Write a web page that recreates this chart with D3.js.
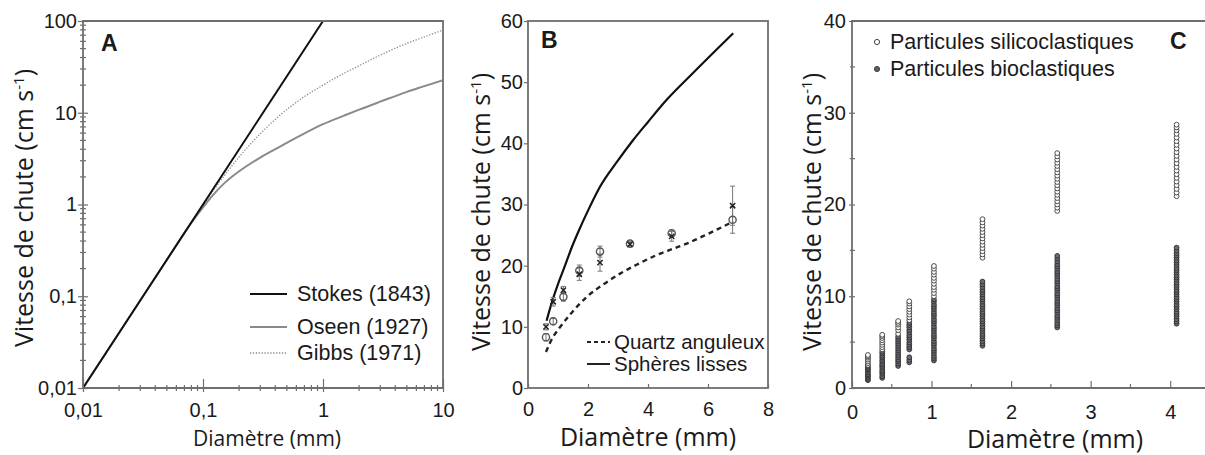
<!DOCTYPE html>
<html>
<head>
<meta charset="utf-8">
<script src="https://cdn.jsdelivr.net/npm/d3@7"></script>
<style>
  body { margin: 0; background: #fff; }
  text { fill: #1a1a1a; }
</style>
</head>
<body>
<div id="fig"></div>
<script>
// ---- data ----

// panel A : log-log
var aTickVals = [0.01, 0.1, 1, 10];
var aTickLabels = ["0,01", "0,1", "1", "10"];
var aYTickVals = [0.01, 0.1, 1, 10, 100];
var aYTickLabels = ["0,01", "0,1", "1", "10", "100"];
var stokesD = [0.01, 0.1, 1];
var stokesV = [0.01, 1, 100];
var oseenD = [0.01, 0.05, 0.08, 0.1, 0.12, 0.15, 0.2, 0.3, 0.45, 0.7, 1, 1.5, 2, 3, 5, 7, 10];
var oseenV = [0.01, 0.25, 0.63, 0.93, 1.25, 1.7, 2.3, 3.25, 4.35, 5.95, 7.5, 9.3, 10.8, 13.2, 16.9, 19.5, 22.7];
var gibbsD = [0.01, 0.05, 0.08, 0.1, 0.12, 0.15, 0.2, 0.3, 0.45, 0.7, 1, 1.5, 2, 3, 5, 7, 10];
var gibbsV = [0.01, 0.25, 0.63, 0.97, 1.38, 2.05, 3.3, 5.9, 9.7, 15, 20, 27, 32.5, 42.5, 57, 67, 80];
var aNames = ["Stokes (1843)", "Oseen (1927)", "Gibbs (1971)"];

// panel B
var bXTicks = [0, 2, 4, 6, 8];
var bYTicks = [0, 10, 20, 30, 40, 50, 60];
var sphD = [0.62, 0.82, 1.0, 1.18, 1.5, 1.7, 2.0, 2.4, 3.0, 3.5, 4.0, 4.6, 5.5, 6.84];
var sphV = [11, 14.4, 17, 19.3, 23.5, 25.8, 29, 32.9, 37.2, 40.5, 43.5, 47, 51.5, 58];
var qzD = [0.6, 0.84, 1.0, 1.4, 1.96, 2.5, 3.07, 3.6, 4.18, 4.8, 5.29, 6.0, 6.84];
var qzV = [5.9, 8.4, 9.5, 12, 14.9, 16.9, 18.7, 20.1, 21.5, 22.7, 23.6, 25.2, 27.2];
var measD = [0.6, 0.84, 1.18, 1.71, 2.4, 3.4, 4.79, 6.82];
var circV = [8.3, 10.9, 14.9, 19.2, 22.3, 23.6, 25.3, 27.5];
var circErr = [0.6, 0.5, 0.7, 0.9, 0.9, 0.3, 0.5, 2.2];
var crossV = [10.0, 14.1, 16.0, 18.6, 20.5, 23.5, 24.8, 29.8];
var crossErr = [0.5, 0.7, 0.6, 1.0, 1.4, 0.3, 0.8, 3.2];
var bNames = ["Quartz anguleux", "Sphères lisses"];

// panel C
var cXTicks = [0, 1, 2, 3, 4];
var cYTicks = [0, 10, 20, 30, 40];
var colD = [0.2, 0.38, 0.58, 0.72, 1.03, 1.64, 2.58, 4.08];
var bioCols = [
  [0.85, 1.0, 1.2, 1.35, 1.5, 1.7, 1.9, 2.05, 2.2, 2.4],
  [1.1, 1.3, 1.55, 1.75, 1.95, 2.2, 2.4, 2.6, 2.85, 3.05, 3.3, 3.5, 3.75, 3.95],
  [2.4, 2.65, 2.9, 3.1, 3.35, 3.6, 3.85, 4.1, 4.35, 4.6, 4.85, 5.1, 5.35, 5.6],
  [2.8, 3.05, 3.35, 4.2, 4.45, 4.7, 4.95, 5.25, 5.5, 5.75, 6.05, 6.3, 6.6, 6.85, 7.1],
  [3.0, 3.25, 3.5, 3.8, 4.05, 4.3, 4.6, 4.85, 5.1, 5.4, 5.65, 5.9, 6.2, 6.45, 6.7, 7.0, 7.25, 7.5, 7.8, 8.05, 8.3, 8.6, 8.85, 9.1, 9.4, 9.65],
  [4.6, 4.85, 5.1, 5.4, 5.65, 5.9, 6.2, 6.45, 6.7, 7.0, 7.25, 7.5, 7.8, 8.05, 8.3, 8.6, 8.85, 9.1, 9.4, 9.65, 9.9, 10.2, 10.45, 10.7, 11.0, 11.3, 11.6],
  [6.6, 6.85, 7.1, 7.4, 7.65, 7.9, 8.2, 8.45, 8.7, 9.0, 9.25, 9.5, 9.8, 10.05, 10.3, 10.6, 10.85, 11.1, 11.4, 11.65, 11.9, 12.2, 12.45, 12.7, 13.0, 13.25, 13.5, 13.8, 14.1, 14.4],
  [7.0, 7.25, 7.5, 7.8, 8.05, 8.3, 8.6, 8.85, 9.1, 9.4, 9.65, 9.9, 10.2, 10.45, 10.7, 11.0, 11.25, 11.5, 11.8, 12.05, 12.3, 12.6, 12.85, 13.1, 13.4, 13.65, 13.9, 14.2, 14.45, 14.7, 15.0, 15.3]
];
var silicoCols = [
  [2.5, 2.7, 2.9, 3.1, 3.3, 3.45, 3.6],
  [4.2, 4.45, 4.7, 4.95, 5.2, 5.45, 5.65, 5.8],
  [5.9, 6.3, 6.6, 6.9, 7.1, 7.3],
  [7.4, 7.7, 8.0, 8.3, 8.6, 8.9, 9.2, 9.45],
  [10.0, 10.35, 10.7, 11.0, 11.35, 11.7, 12.0, 12.35, 12.65, 13.0, 13.3],
  [14.2, 14.55, 14.9, 15.25, 15.6, 15.95, 16.3, 16.65, 17.0, 17.35, 17.7, 18.05, 18.4],
  [19.3, 19.65, 20.0, 20.35, 20.7, 21.05, 21.4, 21.75, 22.1, 22.45, 22.8, 23.15, 23.5, 23.85, 24.2, 24.55, 24.9, 25.25, 25.6],
  [20.9, 21.3, 21.7, 22.1, 22.5, 22.9, 23.3, 23.7, 24.1, 24.5, 24.9, 25.3, 25.7, 26.1, 26.5, 26.9, 27.3, 27.7, 28.1, 28.4, 28.7]
];
var cNames = ["Particules silicoclastiques", "Particules bioclastiques"];

// ---- drawing ----
var W = 1205, H = 455;
var tickFont = "'Liberation Sans', Arial, sans-serif";
var titleFont = "'Open Sans', 'Noto Sans', sans-serif";
var axisCol = "#6e6e6e";

var svg = d3.select("#fig").append("svg")
  .attr("width", W).attr("height", H)
  .attr("viewBox", [0, 0, W, H]);

function zip(xs, ys) { return xs.map((x, i) => [x, ys[i]]); }

function yTitle(x, cy, size) {
  var t = svg.append("text")
    .attr("transform", `translate(${x},${cy}) rotate(-90)`)
    .attr("text-anchor", "middle")
    .attr("font-family", titleFont)
    .attr("font-size", size);
  t.append("tspan").text("Vitesse de chute (cm s");
  t.append("tspan").attr("font-size", size * 0.6).attr("dy", -size * 0.38).text("-1");
  t.append("tspan").attr("dy", size * 0.38).text(")");
}

function xTitle(cx, y, size) {
  svg.append("text")
    .attr("x", cx).attr("y", y)
    .attr("text-anchor", "middle")
    .attr("font-family", titleFont)
    .attr("font-size", size)
    .text("Diamètre (mm)");
}

function styleAxis(g) {
  g.select(".domain").remove();
  g.selectAll("line").attr("stroke", axisCol).attr("stroke-width", 1.2);
  g.selectAll("text").attr("font-family", tickFont).attr("font-size", 20).attr("fill", "#222");
}

function panelLetter(x, y, s) {
  svg.append("text").attr("x", x).attr("y", y)
    .attr("font-family", tickFont).attr("font-weight", "bold")
    .attr("font-size", 23).text(s);
}

// ================= A =================
function panelA() {
  var x = d3.scaleLog().domain([0.01, 10]).range([83, 443]);
  var y = d3.scaleLog().domain([0.01, 100]).range([388, 21]);

  svg.append("clipPath").attr("id", "clipA").append("rect")
    .attr("x", 83).attr("y", 21).attr("width", 360).attr("height", 367);

  var line = d3.line().x(d => x(d[0])).y(d => y(d[1])).curve(d3.curveMonotoneX);
  var g = svg.append("g").attr("clip-path", "url(#clipA)");
  g.append("path").datum(zip(gibbsD, gibbsV)).attr("d", line)
    .attr("fill", "none").attr("stroke", "#8c8c8c").attr("stroke-width", 1.3)
    .attr("stroke-dasharray", "1.3,1.6");
  g.append("path").datum(zip(oseenD, oseenV)).attr("d", line)
    .attr("fill", "none").attr("stroke", "#8a8a8a").attr("stroke-width", 2);
  g.append("path").datum(zip(stokesD, stokesV)).attr("d", line)
    .attr("fill", "none").attr("stroke", "#111").attr("stroke-width", 2);

  // minor ticks
  var minorX = x.ticks().filter(v => aTickVals.indexOf(v) < 0);
  var minorY = y.ticks().filter(v => aYTickVals.indexOf(v) < 0);
  svg.append("g").selectAll("line").data(minorX).join("line")
    .attr("x1", d => x(d)).attr("x2", d => x(d))
    .attr("y1", 385).attr("y2", 391)
    .attr("stroke", axisCol).attr("stroke-width", 1.2);
  svg.append("g").selectAll("line").data(minorY).join("line")
    .attr("y1", d => y(d)).attr("y2", d => y(d))
    .attr("x1", 80).attr("x2", 86)
    .attr("stroke", axisCol).attr("stroke-width", 1.2);

  var gx = svg.append("g").attr("transform", "translate(0,388)")
    .call(d3.axisBottom(x).tickValues(aTickVals).tickSize(4).tickPadding(11)
      .tickFormat((d, i) => aTickLabels[i]));
  styleAxis(gx);
  gx.selectAll(".tick line").attr("y1", -9).attr("y2", 4);

  var gy = svg.append("g").attr("transform", "translate(83,0)")
    .call(d3.axisLeft(y).tickValues(aYTickVals).tickSize(5).tickPadding(1)
      .tickFormat((d, i) => aYTickLabels[i]));
  styleAxis(gy);
  gy.selectAll(".tick line").attr("x1", 5).attr("x2", -5);

  // frame
  svg.append("path").attr("d", "M83,388H443V21H83V388")
    .attr("fill", "none").attr("stroke", axisCol).attr("stroke-width", 1.8);

  // legend
  var lg = [
    {name: aNames[0], y: 301, stroke: "#111", w: 2, dash: null},
    {name: aNames[1], y: 334, stroke: "#8a8a8a", w: 2, dash: null},
    {name: aNames[2], y: 360, stroke: "#8c8c8c", w: 1.3, dash: "1.3,1.6"}
  ];
  var leg = svg.append("g").selectAll("g").data(lg).join("g");
  leg.append("line").attr("x1", 250).attr("x2", 287)
    .attr("y1", d => d.y - 7).attr("y2", d => d.y - 7)
    .attr("stroke", d => d.stroke).attr("stroke-width", d => d.w)
    .attr("stroke-dasharray", d => d.dash);
  leg.append("text").attr("x", 297).attr("y", d => d.y)
    .attr("font-family", tickFont).attr("font-size", 21.5).text(d => d.name);

  panelLetter(101, 51, "A");
  yTitle(33, 208, 25);
  xTitle(267, 446, 21);
}

// ================= B =================
function panelB() {
  var x = d3.scaleLinear().domain([0, 8]).range([528, 768]);
  var y = d3.scaleLinear().domain([0, 60]).range([388, 21]);
  var line = d3.line().x(d => x(d[0])).y(d => y(d[1])).curve(d3.curveMonotoneX);

  svg.append("path").datum(zip(qzD, qzV)).attr("d", line)
    .attr("fill", "none").attr("stroke", "#222").attr("stroke-width", 2.4)
    .attr("stroke-dasharray", "5,4");
  svg.append("path").datum(zip(sphD, sphV)).attr("d", line)
    .attr("fill", "none").attr("stroke", "#111").attr("stroke-width", 2.2);

  // error bars
  var eb = svg.append("g").attr("stroke", "#777").attr("stroke-width", 1);
  function errBars(vals, errs) {
    measD.forEach(function (d, i) {
      var cx = x(d);
      eb.append("line").attr("x1", cx).attr("x2", cx)
        .attr("y1", y(vals[i] - errs[i])).attr("y2", y(vals[i] + errs[i]));
      [vals[i] - errs[i], vals[i] + errs[i]].forEach(function (v) {
        eb.append("line").attr("x1", cx - 2.5).attr("x2", cx + 2.5)
          .attr("y1", y(v)).attr("y2", y(v));
      });
    });
  }
  errBars(circV, circErr);
  errBars(crossV, crossErr);

  svg.append("g").selectAll("circle").data(zip(measD, circV)).join("circle")
    .attr("cx", d => x(d[0])).attr("cy", d => y(d[1])).attr("r", 3.6)
    .attr("fill", "none").attr("stroke", "#555").attr("stroke-width", 1.4);
  svg.append("g").selectAll("path").data(zip(measD, crossV)).join("path")
    .attr("transform", d => `translate(${x(d[0])},${y(d[1])})`)
    .attr("d", d3.symbol(d3.symbolTimes, 20))
    .attr("fill", "none").attr("stroke", "#222").attr("stroke-width", 1.5);

  var gx = svg.append("g").attr("transform", "translate(0,388)")
    .call(d3.axisBottom(x).tickValues(bXTicks).tickSize(4).tickPadding(10));
  styleAxis(gx);
  gx.selectAll(".tick line").attr("y1", -4).attr("y2", 0);

  var gy = svg.append("g").attr("transform", "translate(528,0)")
    .call(d3.axisLeft(y).tickValues(bYTicks).tickSize(4).tickPadding(1));
  styleAxis(gy);

  svg.append("rect").attr("x", 528).attr("y", 21).attr("width", 240).attr("height", 367)
    .attr("fill", "none").attr("stroke", axisCol).attr("stroke-width", 1.8);

  var lg = [{name: bNames[0], y: 349, dash: "4,3"}, {name: bNames[1], y: 371, dash: null}];
  var leg = svg.append("g").selectAll("g").data(lg).join("g");
  leg.append("line").attr("x1", 587).attr("x2", 610)
    .attr("y1", d => d.y - 7).attr("y2", d => d.y - 7)
    .attr("stroke", "#222").attr("stroke-width", 2)
    .attr("stroke-dasharray", d => d.dash);
  leg.append("text").attr("x", 614).attr("y", d => d.y)
    .attr("font-family", tickFont).attr("font-size", 20.5).text(d => d.name);

  panelLetter(541, 48, "B");
  yTitle(490, 212, 25);
  xTitle(648, 446, 25);
}

// ================= C =================
function panelC() {
  var x = d3.scaleLinear().domain([0, 4.5]).range([852, 1210]);
  var y = d3.scaleLinear().domain([0, 40]).range([388, 21]);

  var gb = svg.append("g");
  bioCols.forEach(function (col, i) {
    gb.selectAll(null).data(col).join("circle")
      .attr("cx", x(colD[i])).attr("cy", v => y(v)).attr("r", 2.4)
      .attr("fill", "#6a6a74").attr("stroke", "#2e2e2e").attr("stroke-width", 0.9);
  });
  var gs = svg.append("g");
  silicoCols.forEach(function (col, i) {
    gs.selectAll(null).data(col).join("circle")
      .attr("cx", x(colD[i])).attr("cy", v => y(v)).attr("r", 2.4)
      .attr("fill", "#fff").attr("stroke", "#3a3a3a").attr("stroke-width", 0.9);
  });

  var gx = svg.append("g").attr("transform", "translate(0,388)")
    .call(d3.axisBottom(x).tickValues(cXTicks).tickSize(7).tickPadding(10)
      .tickFormat(d3.format("d")));
  styleAxis(gx);
  gx.selectAll(".tick line").attr("y1", -7).attr("y2", 0);
  svg.append("g").selectAll("line").data([0.5, 1.5, 2.5, 3.5]).join("line")
    .attr("x1", d => x(d)).attr("x2", d => x(d)).attr("y1", 384).attr("y2", 388)
    .attr("stroke", axisCol).attr("stroke-width", 1.2);

  var gy = svg.append("g").attr("transform", "translate(852,0)")
    .call(d3.axisLeft(y).tickValues(cYTicks).tickSize(3).tickPadding(3));
  styleAxis(gy);
  gy.selectAll(".tick line").attr("x1", 3).attr("x2", -3);
  svg.append("g").selectAll("line").data([5, 15, 25, 35]).join("line")
    .attr("y1", d => y(d)).attr("y2", d => y(d)).attr("x1", 850).attr("x2", 855)
    .attr("stroke", axisCol).attr("stroke-width", 1.2);

  svg.append("path").attr("d", "M1210,21H852V388H1210")
    .attr("fill", "none").attr("stroke", axisCol).attr("stroke-width", 1.8);

  // legend
  var lg = [{name: cNames[0], y: 49, fill: "#fff"}, {name: cNames[1], y: 76, fill: "#5c5c6e"}];
  var leg = svg.append("g").selectAll("g").data(lg).join("g");
  leg.append("circle").attr("cx", 877).attr("cy", d => d.y - 7).attr("r", 2.6)
    .attr("fill", d => d.fill).attr("stroke", "#444").attr("stroke-width", 1);
  leg.append("text").attr("x", 890).attr("y", d => d.y)
    .attr("font-family", tickFont).attr("font-size", 21.5).text(d => d.name);

  panelLetter(1170, 49, "C");
  yTitle(821, 212, 25);
  xTitle(1055, 448, 25);
}

panelA();
panelB();
panelC();
</script>
</body>
</html>
